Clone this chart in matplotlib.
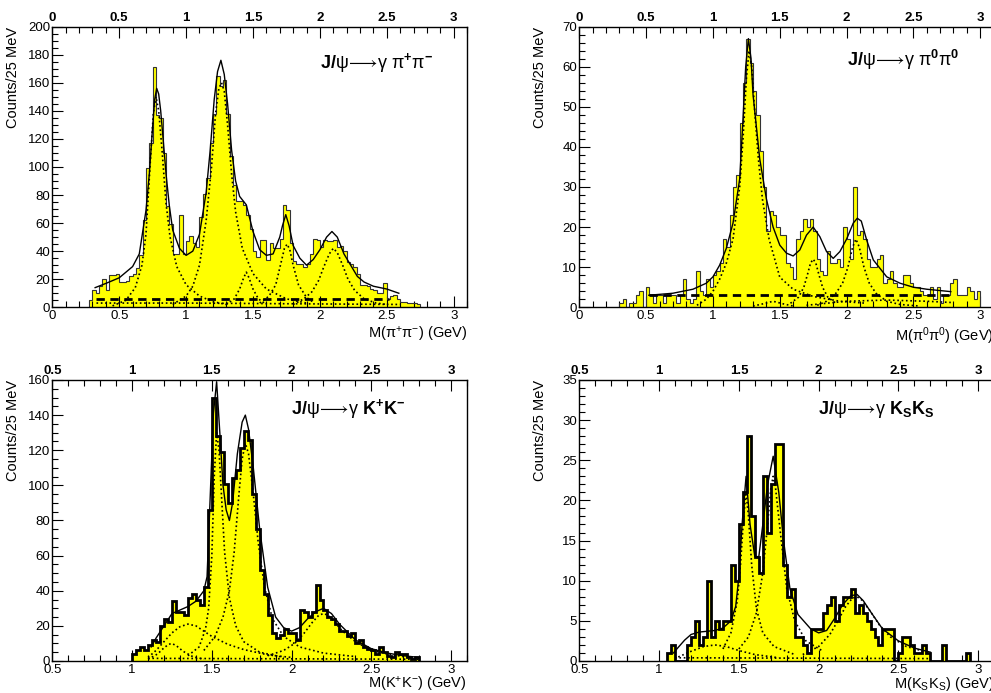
import numpy as np
import matplotlib
matplotlib.use("Agg")
import matplotlib.pyplot as plt
from matplotlib.ticker import MultipleLocator, FuncFormatter

plt.rcParams["font.family"] = ["Liberation Sans", "DejaVu Sans"]
plt.rcParams["mathtext.fontset"] = "custom"
plt.rcParams["mathtext.rm"] = "Liberation Sans"
plt.rcParams["mathtext.it"] = "Liberation Sans:italic"
plt.rcParams["mathtext.bf"] = "Liberation Sans:bold"
plt.rcParams["mathtext.default"] = "regular"
plt.rcParams["mathtext.fallback"] = "stixsans"

BIN = 0.025  # 25 MeV bins

# ---------------- J/psi -> gamma pi+ pi- ----------------
pp_start = 0.275
pp_counts = [5, 12, 10, 15, 20, 12, 23, 23, 24, 18, 18, 19, 22, 24, 28, 37, 62, 99, 117, 171,
             137, 135, 110, 72, 59, 38, 38, 66, 38, 47, 51, 46, 43, 64, 81, 92, 117, 138, 165, 158,
             162, 138, 108, 87, 76, 76, 73, 66, 56, 40, 36, 48, 48, 34, 46, 42, 42, 49, 73, 69,
             46, 33, 31, 31, 29, 31, 38, 49, 48, 43, 48, 47, 47, 48, 43, 44, 40, 32, 31, 29,
             24, 16, 16, 15, 13, 12, 10, 10, 17, 6, 8, 9, 6, 4, 4, 3, 3, 3, 2]
pp_fit_x = [0.32, 0.40, 0.50, 0.60, 0.65, 0.70, 0.725, 0.75, 0.765, 0.78, 0.795, 0.81, 0.83, 0.85,
            0.875, 0.90, 0.95, 1.00, 1.05, 1.10, 1.15, 1.18, 1.21, 1.235, 1.26, 1.285, 1.31, 1.34,
            1.37, 1.40, 1.45, 1.50, 1.55, 1.60, 1.65, 1.70, 1.72, 1.745, 1.77, 1.80, 1.85, 1.90,
            1.95, 2.00, 2.05, 2.09, 2.13, 2.18, 2.23, 2.28, 2.33, 2.40, 2.50, 2.59]
pp_fit_y = [14, 17, 21, 29, 38, 69, 95, 129, 148, 156, 152, 140, 118, 95, 72, 55, 42, 37, 40, 52,
            82, 112, 148, 168, 176, 166, 145, 112, 90, 79, 73, 54, 41, 37, 38, 50, 58, 66, 58, 44,
            35, 30, 34, 41, 50, 54, 50, 38, 30, 22, 18, 15, 13, 10]
pp_rho_x = [0.45, 0.55, 0.62, 0.67, 0.70, 0.73, 0.755, 0.775, 0.795, 0.82, 0.85, 0.88, 0.93, 1.00, 1.10, 1.20, 1.30]
pp_rho_y = [1, 5, 14, 30, 52, 100, 138, 150, 140, 112, 74, 50, 29, 16, 8, 4, 2]
pp_f2_x = [0.90, 1.00, 1.05, 1.10, 1.15, 1.19, 1.22, 1.245, 1.265, 1.285, 1.31, 1.34, 1.37, 1.42, 1.50, 1.60, 1.75, 1.90]
pp_f2_y = [2, 8, 15, 30, 62, 100, 138, 156, 160, 154, 130, 95, 68, 42, 24, 13, 6, 3]
pp_f1450_x = [1.30, 1.36, 1.40, 1.43, 1.45, 1.47, 1.50, 1.54, 1.60]
pp_f1450_y = [2, 6, 13, 21, 25, 21, 13, 6, 2]
pp_f1750_x = [1.55, 1.62, 1.67, 1.71, 1.735, 1.755, 1.775, 1.80, 1.84, 1.90, 1.96]
pp_f1750_y = [3, 8, 16, 32, 42, 45, 41, 30, 16, 7, 3]
pp_f2100_x = [1.80, 1.88, 1.94, 1.99, 2.03, 2.07, 2.10, 2.13, 2.17, 2.21, 2.26, 2.33, 2.42, 2.50]
pp_f2100_y = [2, 6, 11, 19, 29, 38, 42, 39, 30, 20, 12, 6, 3, 2]
pp_low_x = [0.33, 1.0, 1.8, 2.6]
pp_low_y = [3, 3, 2.5, 2]
pp_bg_x = [0.33, 2.52]
pp_bg_y = [6, 6]

# ---------------- J/psi -> gamma pi0 pi0 ----------------
p0_start = 0.300
p0_counts = [1, 2, 0, 1, 1, 3, 4, 0, 5, 3, 1, 3, 3, 1, 3, 3, 3, 1, 3, 7,
             2, 1, 2, 9, 4, 3, 7, 5, 8, 9, 11, 17, 15, 23, 30, 33, 46, 56, 67, 61,
             54, 48, 39, 30, 19, 24, 23, 20, 18, 18, 11, 10, 7, 17, 19, 22, 20, 22, 19, 12,
             9, 8, 14, 11, 11, 12, 10, 20, 17, 12, 30, 18, 19, 17, 12, 10, 10, 12, 13, 6,
             7, 9, 6, 5, 5, 8, 8, 6, 5, 5, 4, 3, 3, 5, 2, 5, 1, 3, 3, 6,
             7, 3, 3, 3, 5, 4, 2, 4]
p0_fit_x = [0.52, 0.70, 0.85, 0.95, 1.00, 1.05, 1.10, 1.15, 1.20, 1.22, 1.245, 1.265, 1.285, 1.30,
            1.35, 1.40, 1.45, 1.50, 1.55, 1.60, 1.65, 1.70, 1.75, 1.80, 1.85, 1.90, 1.95, 2.00,
            2.05, 2.08, 2.11, 2.15, 2.20, 2.30, 2.40, 2.50, 2.60, 2.78]
p0_fit_y = [3, 3.5, 4.5, 6, 7.6, 10.5, 14.7, 21, 32, 44, 60, 67, 62, 53, 37, 27, 20, 15.5, 13.5,
            12.8, 14.3, 18, 20, 17.6, 13.9, 12.2, 13.9, 17, 21, 22.2, 21.5, 16.8, 11.8, 7.6, 6,
            5, 4.5, 3.9]
p0_f2_x = [0.88, 0.95, 1.00, 1.05, 1.10, 1.15, 1.20, 1.225, 1.25, 1.27, 1.29, 1.31, 1.34, 1.37, 1.42, 1.50, 1.60, 1.75, 1.95, 2.15]
p0_f2_y = [0.5, 2, 4, 7, 11, 17, 30, 42, 57, 64, 60, 50, 37, 27, 17, 7.5, 4.5, 2.7, 1.5, 1]
p0_f1450_x = [1.30, 1.38, 1.45, 1.52, 1.60]
p0_f1450_y = [0.3, 0.9, 1.5, 0.9, 0.3]
p0_f1750_x = [1.58, 1.64, 1.68, 1.71, 1.73, 1.75, 1.77, 1.79, 1.82, 1.86, 1.92]
p0_f1750_y = [1, 2.5, 5, 8.5, 11, 12, 11, 8.5, 5, 2.5, 1]
p0_f2080_x = [1.78, 1.85, 1.92, 1.97, 2.01, 2.045, 2.07, 2.095, 2.13, 2.17, 2.22, 2.30, 2.40, 2.55]
p0_f2080_y = [0.5, 1.5, 3.5, 6, 10, 15, 17, 15, 10, 6, 3.5, 1.5, 0.7, 0.3]
p0_low_x = [1.70, 2.00, 2.30, 2.60, 2.78]
p0_low_y = [0.5, 1.5, 1.8, 1.5, 1.2]
p0_bg_x = [0.52, 2.78]
p0_bg_y = [3, 3]

# ---------------- J/psi -> gamma K+ K- ----------------
kk_start = 1.000
kk_counts = [4, 6, 8, 6, 9, 12, 11, 20, 24, 22, 34, 28, 28, 26, 36, 38, 35, 32, 42, 86,
             150, 128, 119, 101, 90, 104, 109, 121, 131, 126, 95, 75, 52, 38, 26, 16, 13, 15, 18, 16,
             16, 12, 29, 28, 25, 28, 43, 35, 29, 25, 24, 21, 17, 17, 14, 16, 10, 12, 8, 7,
             6, 4, 8, 5, 3, 2, 5, 4, 4, 2, 1, 2]
kk_fit_x = [1.12, 1.15, 1.20, 1.25, 1.30, 1.35, 1.40, 1.45, 1.47, 1.49, 1.51, 1.53, 1.55, 1.57,
            1.59, 1.61, 1.63, 1.66, 1.69, 1.71, 1.73, 1.76, 1.80, 1.85, 1.90, 1.95, 2.00, 2.05,
            2.10, 2.15, 2.20, 2.25, 2.30, 2.40, 2.50, 2.60, 2.70, 2.80]
kk_fit_y = [8, 13, 20, 27, 29, 31, 34, 40, 48, 94, 141, 159, 130, 100, 86, 80, 90, 118, 136, 140,
            132, 110, 75, 42, 25, 19, 17, 19, 24, 28, 30, 27, 21, 12, 7, 4.5, 3, 2]
kk_f1270_x = [1.10, 1.16, 1.20, 1.23, 1.25, 1.28, 1.32, 1.38, 1.45]
kk_f1270_y = [1, 4, 7.5, 9.5, 10, 8.5, 5.5, 2.5, 1]
kk_broad_x = [1.10, 1.15, 1.20, 1.25, 1.30, 1.35, 1.40, 1.45, 1.50, 1.60, 1.70, 1.85, 2.00]
kk_broad_y = [2, 6, 11, 16, 19.5, 21, 20, 17, 14, 9.5, 6.5, 3.5, 2]
kk_f1525_x = [1.35, 1.42, 1.46, 1.48, 1.50, 1.515, 1.53, 1.545, 1.56, 1.58, 1.61, 1.65, 1.70, 1.80, 1.95]
kk_f1525_y = [3, 8, 18, 30, 60, 105, 130, 120, 95, 62, 36, 20, 11, 5, 2]
kk_f1710_x = [1.45, 1.52, 1.57, 1.61, 1.64, 1.67, 1.69, 1.71, 1.73, 1.76, 1.79, 1.83, 1.88, 1.95, 2.05, 2.20, 2.40]
kk_f1710_y = [6, 14, 25, 40, 62, 95, 115, 124, 118, 95, 68, 42, 24, 14, 8, 4.5, 2.5]
kk_f2200_x = [1.85, 1.95, 2.02, 2.08, 2.13, 2.17, 2.20, 2.23, 2.27, 2.32, 2.40, 2.50, 2.60, 2.70, 2.80]
kk_f2200_y = [3, 6, 10, 16, 22, 26, 27, 26, 22, 17, 11, 6, 4, 2.5, 1.5]
kk_low_x = [1.10, 2.80]
kk_low_y = [1.5, 1.0]

# ---------------- J/psi -> gamma Ks Ks ----------------
ks_start = 1.050
ks_counts = [1, 2, 0, 0, 0, 2, 3, 5, 2, 3, 10, 3, 5, 4, 5, 5, 12, 10, 17, 21,
             28, 18, 13, 11, 23, 16, 22, 27, 27, 12, 8, 9, 3, 3, 2, 1, 4, 4, 4, 6,
             7, 8, 5, 7, 8, 8, 9, 6, 7, 6, 5, 4, 3, 2, 4, 4, 4, 0, 1, 3,
             3, 2, 1, 1, 2, 1, 0, 0, 0, 2, 0, 0, 0, 0, 0, 1]
ks_fit_x = [1.09, 1.12, 1.16, 1.20, 1.25, 1.30, 1.35, 1.40, 1.45, 1.48, 1.50, 1.52, 1.545, 1.57,
            1.60, 1.625, 1.65, 1.68, 1.715, 1.75, 1.78, 1.82, 1.87, 1.95, 2.00, 2.05, 2.10, 2.15,
            2.20, 2.24, 2.28, 2.33, 2.40, 2.50, 2.60, 2.70]
ks_fit_y = [1.0, 1.7, 2.6, 3.3, 3.6, 3.7, 3.8, 4.1, 5.0, 6.8, 10.5, 17, 23, 17, 13, 13, 17, 22,
            25.5, 21, 15, 9, 5.8, 4.0, 3.5, 3.8, 5.3, 7, 8.1, 8.3, 7.5, 6, 4, 2.5, 1.6, 1.1]
ks_broad_x = [1.12, 1.20, 1.28, 1.35, 1.42, 1.50, 1.60, 1.75]
ks_broad_y = [0.5, 1.2, 1.8, 2.0, 1.8, 1.3, 0.8, 0.4]
ks_f1525_x = [1.40, 1.45, 1.49, 1.51, 1.53, 1.545, 1.56, 1.58, 1.61, 1.65, 1.72, 1.85]
ks_f1525_y = [1.5, 3.5, 7.5, 12, 18, 21, 18, 12, 6.5, 3.5, 1.8, 0.8]
ks_f1710_x = [1.50, 1.56, 1.61, 1.65, 1.68, 1.70, 1.715, 1.73, 1.76, 1.80, 1.85, 1.92, 2.02]
ks_f1710_y = [1.5, 3, 6, 11, 17, 21.5, 23, 21.5, 16, 9, 5, 2.5, 1.3]
ks_f2230_x = [1.90, 2.00, 2.07, 2.12, 2.17, 2.21, 2.24, 2.27, 2.32, 2.38, 2.45, 2.55, 2.70]
ks_f2230_y = [0.8, 1.8, 3.3, 5, 6.8, 7.8, 8, 7.6, 6.3, 4.5, 3, 1.8, 1]
ks_low_x = [1.10, 2.70]
ks_low_y = [0.4, 0.3]

YELLOW = "#ffff00"
DOT = (0, (1, 1.6))


def draw_panel(ax, start, counts, fit_x, fit_y, comps, bg, xlo, ymax, ymaj, ymin,
               title, tx, ty, xlabel, xl_y, thick):
    edges = start + BIN * np.arange(len(counts) + 1)
    ax.stairs(counts, edges, baseline=0, fill=True, color=YELLOW, lw=0, zorder=1)
    if thick:
        ax.stairs(counts, edges, baseline=0, color="black", lw=2.0, zorder=2)
    else:
        ax.stairs(counts, edges, baseline=0, color="#333333", lw=0.8, zorder=2)
    for cx, cy in comps:
        ax.plot(cx, cy, color="black", lw=1.2, ls=DOT, zorder=3)
    if bg is not None:
        ax.plot(bg[0], bg[1], color="black", lw=2.0, ls=(0, (3, 2)), zorder=3)
    ax.plot(fit_x, fit_y, color="black", lw=1.0, zorder=4)

    ax.set_xlim(xlo, 3.1)
    ax.set_ylim(0, ymax)
    ax.xaxis.set_major_locator(MultipleLocator(0.5))
    ax.xaxis.set_minor_locator(MultipleLocator(0.1))
    ax.yaxis.set_major_locator(MultipleLocator(ymaj))
    ax.yaxis.set_minor_locator(MultipleLocator(ymin))
    ax.xaxis.set_major_formatter(FuncFormatter(lambda v, p: f"{v:g}"))
    ax.tick_params(which="both", direction="in", top=True, right=False,
                   labeltop=True, labelsize=9.5, width=0.8)
    ax.tick_params(which="major", length=8)
    ax.tick_params(which="minor", length=4)
    ax.tick_params(axis="x", which="major", pad=2.0)
    ax.tick_params(axis="y", pad=1.5)
    for t in ax.xaxis.get_major_ticks():
        t.label2.set_fontweight("bold")
    for s in ax.spines.values():
        s.set_linewidth(1.0)

    ax.set_ylabel("Counts/25 MeV", fontsize=10.5, loc="top")
    ax.yaxis.set_label_coords(-0.078, 1.0)
    ax.set_xlabel(xlabel, fontsize=10.5, loc="right")
    ax.xaxis.set_label_coords(1.0, xl_y)
    ax.text(tx, ty, title, transform=ax.transAxes, fontsize=13, fontweight="bold",
            ha="left", va="baseline")


fig = plt.figure(figsize=(9.91, 6.93), dpi=100)

ax1 = fig.add_axes([0.0528, 0.5566, 0.4185, 0.405])
draw_panel(ax1, pp_start, pp_counts, pp_fit_x, pp_fit_y,
           [(pp_rho_x, pp_rho_y), (pp_f2_x, pp_f2_y), (pp_f1450_x, pp_f1450_y),
            (pp_f1750_x, pp_f1750_y), (pp_f2100_x, pp_f2100_y), (pp_low_x, pp_low_y)],
           (pp_bg_x, pp_bg_y), 0.0, 200, 20, 5,
           r"J/$\mathrm{\psi}\!\longrightarrow\!\mathrm{\gamma}\ \mathrm{\pi}^{+}\mathrm{\pi}^{-}$",
           0.646, 0.854, r"M(π$^{+}$π$^{-}$) (GeV)", -0.064, False)

ax2 = fig.add_axes([0.5846, 0.5566, 0.418, 0.405])
draw_panel(ax2, p0_start, p0_counts, p0_fit_x, p0_fit_y,
           [(p0_f2_x, p0_f2_y), (p0_f1450_x, p0_f1450_y), (p0_f1750_x, p0_f1750_y),
            (p0_f2080_x, p0_f2080_y), (p0_low_x, p0_low_y)],
           (p0_bg_x, p0_bg_y), 0.0, 70, 10, 2,
           r"J/$\mathrm{\psi}\!\longrightarrow\!\mathrm{\gamma}\ \mathrm{\pi}^{0}\mathrm{\pi}^{0}$",
           0.646, 0.86, r"M(π$^{0}$π$^{0}$) (GeV)", -0.064, False)

ax3 = fig.add_axes([0.0528, 0.0462, 0.4185, 0.4055])
draw_panel(ax3, kk_start, kk_counts, kk_fit_x, kk_fit_y,
           [(kk_f1270_x, kk_f1270_y), (kk_broad_x, kk_broad_y), (kk_f1525_x, kk_f1525_y),
            (kk_f1710_x, kk_f1710_y), (kk_f2200_x, kk_f2200_y), (kk_low_x, kk_low_y)],
           None, 0.5, 160, 20, 5,
           r"J/$\mathrm{\psi}\!\longrightarrow\!\mathrm{\gamma}$ K$^{+}$K$^{-}$",
           0.576, 0.878, r"M(K$^{+}$K$^{-}$) (GeV)", -0.05, True)

ax4 = fig.add_axes([0.5846, 0.0462, 0.4186, 0.4055])
draw_panel(ax4, ks_start, ks_counts, ks_fit_x, ks_fit_y,
           [(ks_broad_x, ks_broad_y), (ks_f1525_x, ks_f1525_y), (ks_f1710_x, ks_f1710_y),
            (ks_f2230_x, ks_f2230_y), (ks_low_x, ks_low_y)],
           None, 0.5, 35, 5, 1,
           r"J/$\mathrm{\psi}\!\longrightarrow\!\mathrm{\gamma}$ K$_{S}$K$_{S}$",
           0.576, 0.878, r"M(K$_{S}$K$_{S}$) (GeV)", -0.05, True)

fig.savefig("out.png", dpi=100)
